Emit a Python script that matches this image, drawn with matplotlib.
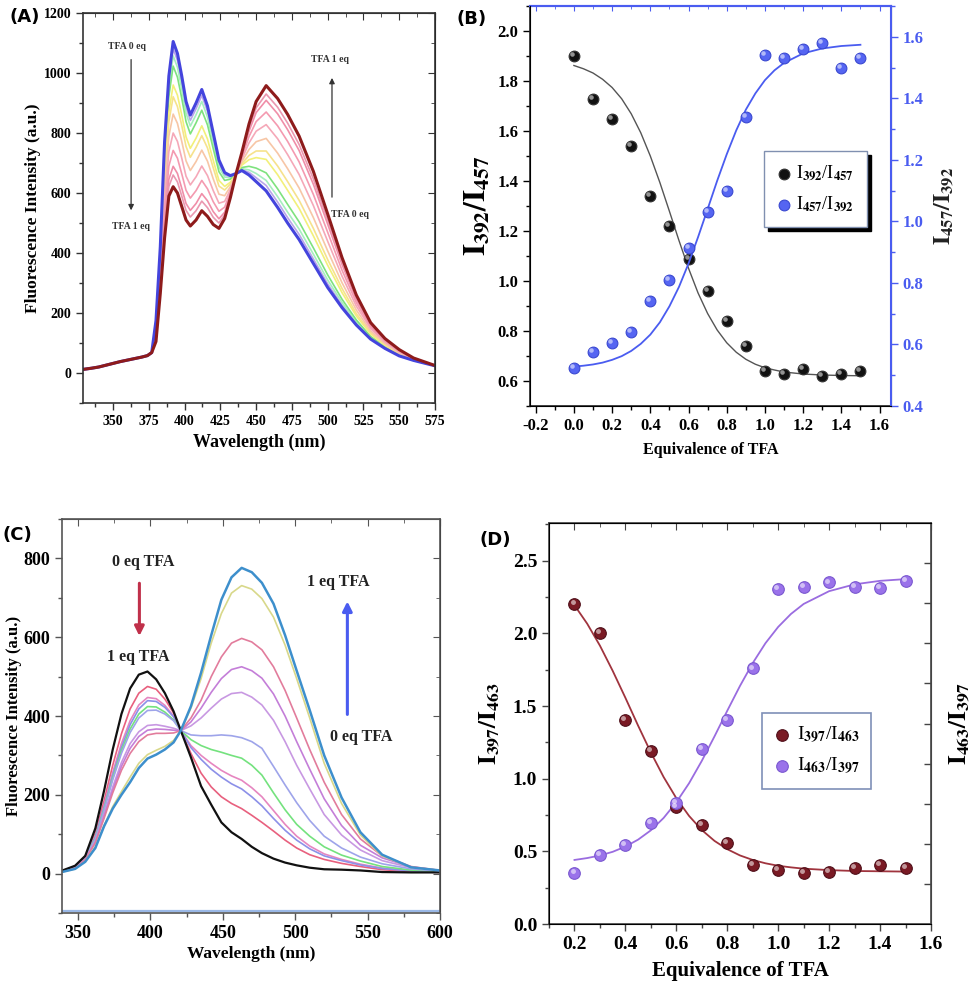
import numpy as np
import matplotlib
matplotlib.use('Agg')
import matplotlib.pyplot as plt
from matplotlib.ticker import MultipleLocator, FixedLocator, NullFormatter
from matplotlib.transforms import offset_copy

plt.rcParams['font.family'] = ['Liberation Serif', 'DejaVu Serif']
plt.rcParams['font.weight'] = 'bold'
plt.rcParams['mathtext.fontset'] = 'stix'

# ---------------- (A) spectra ----------------
# shared part below 380 nm (all curves overlap)
wl_a_base = [329, 335, 340, 345, 350, 355, 360, 365, 370, 374, 377]
int_a_base = [12, 16, 20, 26, 32, 38, 43, 48, 53, 58, 68]
wl_a = [380, 383, 386, 389, 392, 395, 398, 401, 404, 408, 412, 416, 420, 424, 428, 432,
        436, 440, 445, 450, 457, 465, 472, 480, 490, 500, 510, 520, 530, 540, 550, 560, 575]
# from TFA 0 eq (blue) to TFA 1 eq (dark red)
spectra_a = [
    [175, 420, 770, 990, 1105, 1065, 990, 905, 860, 900, 945, 890, 800, 710, 668, 658,
     665, 675, 660, 638, 607, 552, 500, 445, 365, 285, 218, 160, 113, 82, 57, 42, 24],
    [172, 412, 754, 970, 1081, 1042, 968, 885, 842, 881, 925, 872, 785, 699, 660, 654,
     665, 678, 669, 651, 625, 570, 518, 462, 380, 297, 226, 165, 116, 84, 58, 42, 24],
    [168, 405, 738, 950, 1057, 1019, 947, 866, 823, 861, 905, 853, 770, 687, 653, 651,
     665, 681, 677, 665, 642, 588, 536, 480, 396, 310, 235, 170, 119, 85, 59, 43, 24],
    [163, 394, 716, 922, 1023, 986, 916, 838, 797, 834, 876, 827, 748, 671, 642, 646,
     665, 685, 689, 683, 667, 614, 562, 504, 417, 327, 246, 177, 122, 88, 61, 43, 24],
    [154, 374, 674, 870, 960, 926, 860, 787, 749, 783, 824, 780, 709, 642, 622, 636,
     665, 693, 711, 718, 712, 661, 609, 549, 457, 359, 268, 190, 130, 92, 63, 44, 24],
    [148, 361, 648, 838, 921, 888, 825, 755, 719, 752, 791, 750, 684, 623, 610, 630,
     665, 698, 725, 740, 740, 690, 638, 576, 482, 378, 282, 198, 134, 95, 65, 45, 24],
    [140, 342, 610, 790, 863, 832, 772, 707, 675, 705, 743, 706, 647, 596, 591, 621,
     665, 705, 745, 771, 782, 733, 681, 617, 518, 407, 301, 210, 140, 98, 67, 46, 24],
    [131, 322, 568, 738, 800, 772, 716, 656, 627, 654, 690, 658, 608, 566, 572, 612,
     665, 713, 767, 806, 828, 781, 728, 662, 558, 439, 323, 223, 148, 103, 70, 47, 25],
    [123, 304, 530, 690, 742, 716, 664, 609, 583, 608, 642, 614, 571, 539, 553, 603,
     665, 720, 788, 838, 870, 824, 772, 704, 595, 469, 343, 235, 154, 107, 73, 48, 25],
    [115, 287, 495, 646, 689, 665, 616, 565, 542, 565, 598, 574, 538, 514, 536, 595,
     665, 727, 806, 868, 909, 864, 811, 742, 629, 496, 362, 246, 160, 110, 75, 49, 25],
    [111, 277, 476, 622, 660, 637, 590, 542, 520, 541, 573, 551, 519, 500, 527, 591,
     665, 730, 816, 884, 930, 886, 833, 762, 647, 510, 372, 252, 164, 112, 76, 49, 25],
    [105, 265, 450, 590, 621, 600, 555, 510, 490, 510, 541, 522, 495, 482, 515, 585,
     665, 735, 830, 905, 958, 915, 862, 790, 672, 530, 385, 260, 168, 115, 78, 50, 25],
]
colors_a = ['#4444dd', '#b9a6ea', '#a6eec0', '#7ee27e', '#f2f07a', '#f6e28c', '#f7c6a6',
            '#f5a8b8', '#f49ab0', '#f08ea8', '#ea98b0', '#8e1b1b']

# ---------------- (B) ratios ----------------
eq_b = [0.0, 0.1, 0.2, 0.3, 0.4, 0.5, 0.6, 0.7, 0.8, 0.9, 1.0, 1.1, 1.2, 1.3, 1.4, 1.5]
r392_457 = [1.90, 1.73, 1.65, 1.54, 1.34, 1.22, 1.09, 0.96, 0.84, 0.74, 0.64, 0.63, 0.65, 0.62, 0.63, 0.64]
r457_392 = [0.523, 0.575, 0.604, 0.642, 0.74, 0.81, 0.913, 1.031, 1.10, 1.34, 1.54, 1.53, 1.56, 1.58, 1.50, 1.53]
fit_x_b = [0.0, 0.05, 0.1, 0.15, 0.2, 0.25, 0.3, 0.35, 0.4, 0.45, 0.5, 0.55, 0.6, 0.65, 0.7, 0.75,
           0.8, 0.85, 0.9, 0.95, 1.0, 1.05, 1.1, 1.2, 1.3, 1.4, 1.5]
fit_392_457 = [1.862, 1.849, 1.832, 1.807, 1.774, 1.729, 1.669, 1.593, 1.500, 1.394, 1.279, 1.162,
               1.051, 0.952, 0.870, 0.804, 0.753, 0.715, 0.687, 0.667, 0.653, 0.644, 0.636, 0.628,
               0.624, 0.622, 0.621]
fit_457_392 = [0.528, 0.531, 0.535, 0.541, 0.550, 0.562, 0.579, 0.602, 0.632, 0.672, 0.724, 0.787,
               0.863, 0.949, 1.040, 1.132, 1.218, 1.296, 1.363, 1.416, 1.459, 1.491, 1.515, 1.546,
               1.562, 1.570, 1.574]

# ---------------- (C) spectra ----------------
wl_c = [340, 348, 355, 362, 368, 374, 380, 386, 392, 398, 404, 410, 416, 421, 428, 435,
        442, 449, 456, 463, 470, 477, 485, 493, 501, 510, 520, 532, 545, 560, 580, 600]
spectra_c = {
    '#e8607e': [8, 19, 44, 102, 185, 275, 355, 418, 458, 475, 468, 443, 408, 363, 305, 255,
                220, 195, 178, 165, 148, 130, 108, 85, 65, 48, 36, 26, 18, 10, 5, 3],
    '#e686c0': [8, 18, 42, 96, 173, 257, 330, 388, 428, 447, 444, 427, 400, 363, 325, 300,
                280, 262, 248, 237, 218, 195, 160, 125, 95, 70, 50, 36, 24, 14, 7, 4],
    '#8c90e8': [7, 17, 41, 93, 168, 250, 320, 378, 418, 439, 437, 422, 398, 363, 320, 290,
                265, 245, 228, 215, 195, 172, 140, 110, 85, 63, 45, 33, 22, 13, 7, 4],
    '#74e27e': [7, 17, 40, 90, 163, 243, 312, 367, 405, 424, 423, 410, 390, 363, 340, 325,
                315, 308, 300, 293, 275, 250, 205, 162, 125, 95, 68, 47, 32, 18, 9, 5],
    '#9ea4ea': [7, 16, 39, 88, 160, 238, 305, 358, 395, 414, 415, 405, 388, 363, 352, 350,
                350, 352, 350, 345, 335, 318, 272, 225, 180, 135, 95, 65, 42, 25, 12, 6],
    '#c898e2': [6, 15, 37, 82, 150, 220, 282, 330, 360, 376, 378, 374, 369, 363, 375, 395,
                420, 443, 457, 460, 448, 428, 389, 335, 275, 215, 150, 98, 60, 33, 15, 7],
    '#c47ed8': [6, 14, 36, 80, 145, 212, 272, 318, 348, 364, 367, 366, 364, 363, 385, 420,
                460, 495, 518, 525, 515, 496, 456, 400, 335, 265, 190, 122, 72, 40, 17, 8],
    '#e27c9c': [6, 14, 35, 78, 140, 205, 262, 305, 335, 352, 356, 356, 357, 363, 395, 440,
                500, 550, 585, 597, 588, 568, 525, 465, 395, 315, 232, 150, 88, 45, 18, 8],
    '#d8d88a': [5, 12, 31, 68, 122, 170, 208, 245, 280, 302, 313, 323, 338, 363, 420, 495,
                585, 660, 712, 731, 722, 698, 651, 580, 495, 395, 280, 178, 98, 45, 16, 8],
}
c_black = [9, 20, 45, 115, 210, 315, 405, 470, 505, 513, 493, 458, 412, 363, 295, 222,
           175, 130, 105, 88, 68, 52, 38, 28, 21, 15, 11, 10, 8, 4, 3, 3]
c_blue = [5, 12, 30, 65, 120, 165, 200, 232, 268, 292, 302, 315, 333, 363, 425, 510,
          605, 695, 752, 776, 765, 738, 685, 605, 515, 415, 300, 193, 105, 48, 16, 8]

# ---------------- (D) ratios ----------------
eq_d = [0.2, 0.3, 0.4, 0.5, 0.6, 0.7, 0.8, 0.9, 1.0, 1.1, 1.2, 1.3, 1.4, 1.5]
r397_463 = [2.206, 2.0, 1.404, 1.19, 0.807, 0.681, 0.56, 0.406, 0.372, 0.349, 0.36, 0.383, 0.406, 0.383]
r463_397 = [0.353, 0.475, 0.544, 0.693, 0.83, 1.202, 1.404, 1.759, 2.303, 2.321, 2.351, 2.321, 2.31, 2.362]
fit_x_d = [0.2, 0.25, 0.3, 0.35, 0.4, 0.45, 0.5, 0.55, 0.6, 0.65, 0.7, 0.75, 0.8, 0.85, 0.9,
           0.95, 1.0, 1.05, 1.1, 1.2, 1.3, 1.4, 1.5]
fit_397_463 = [2.194, 2.067, 1.916, 1.743, 1.557, 1.365, 1.181, 1.012, 0.866, 0.744, 0.647, 0.572,
               0.515, 0.472, 0.441, 0.418, 0.401, 0.390, 0.381, 0.371, 0.365, 0.363, 0.361]
fit_463_397 = [0.441, 0.454, 0.472, 0.497, 0.533, 0.581, 0.645, 0.730, 0.838, 0.969, 1.123, 1.292,
               1.468, 1.639, 1.796, 1.933, 2.045, 2.134, 2.203, 2.291, 2.338, 2.362, 2.374]


def setup(ax, xmaj, xmin, ymaj, ymin, size, spine='#333333', mirror_y=True):
    ax.xaxis.set_major_locator(MultipleLocator(xmaj))
    ax.xaxis.set_minor_locator(MultipleLocator(xmin))
    ax.yaxis.set_major_locator(MultipleLocator(ymaj))
    ax.yaxis.set_minor_locator(MultipleLocator(ymin))
    ax.tick_params(which='both', direction='out', width=1, colors=spine, labelcolor='black',
                   labelsize=size)
    ax.tick_params(which='major', length=5)
    ax.tick_params(which='minor', length=3)
    for s in ax.spines.values():
        s.set_color(spine)
        s.set_linewidth(1.2)
    top = ax.secondary_xaxis('top')
    top.xaxis.set_major_locator(MultipleLocator(xmaj))
    top.xaxis.set_minor_locator(MultipleLocator(xmin))
    top.tick_params(which='both', direction='in', labeltop=False, colors=spine)
    top.tick_params(which='major', length=5)
    top.tick_params(which='minor', length=3)
    top.spines['top'].set_color(spine)
    if mirror_y:
        right = ax.secondary_yaxis('right')
        right.yaxis.set_major_locator(MultipleLocator(ymaj))
        right.yaxis.set_minor_locator(MultipleLocator(ymin))
        right.tick_params(which='both', direction='in', labelright=False, colors=spine)
        right.tick_params(which='major', length=5)
        right.tick_params(which='minor', length=3)
    return top


def balls(ax, x, y, color, edge, size):
    # shaded sphere look: dot + small highlight
    h = ax.scatter(x, y, s=size, color=color, edgecolor=edge, linewidth=0.8, zorder=5)
    hl = offset_copy(ax.transData, fig=ax.figure, x=-1.4, y=1.4, units='points')
    ax.scatter(x, y, s=size * 0.18, color='white', alpha=0.55, linewidth=0,
               transform=hl, zorder=6)
    return h


fig = plt.figure(figsize=(9.71, 10.01), dpi=100)

# ---- panel A ----
axA = fig.add_axes([0.0855, 0.5974, 0.3625, 0.3896])
for vals, col in zip(spectra_a[1:-1], colors_a[1:-1]):
    axA.plot(wl_a_base + wl_a, int_a_base + vals, color=col, lw=1.2)
axA.plot(wl_a_base + wl_a, int_a_base + spectra_a[0], color=colors_a[0], lw=2.2)
axA.plot(wl_a_base + wl_a, int_a_base + spectra_a[-1], color=colors_a[-1], lw=2.2)
axA.set_xlim(329, 575)
axA.set_ylim(-100, 1200)
setup(axA, 25, 12.5, 200, 100, 10)
axA.set_xlabel('Wavelength (nm)', fontsize=13, fontweight='bold', labelpad=4)
axA.set_ylabel('Fluorescence Intensity (a.u.)', fontsize=12.5, fontweight='bold', labelpad=2)
arrow_k = dict(arrowstyle='-|>', color='#333333', lw=0.9, mutation_scale=8)
axA.annotate('', xy=(362.6, 533), xytext=(362.6, 1054), arrowprops=arrow_k)
axA.annotate('', xy=(503, 993), xytext=(503, 577), arrowprops=arrow_k)
for x, y, t in [(359.5, 1090, 'TFA 0 eq'), (362.3, 490, 'TFA 1 eq'),
                (501.5, 1045, 'TFA 1 eq'), (515.5, 529, 'TFA 0 eq')]:
    axA.text(x, y, t, ha='center', va='center', fontsize=7, fontweight='bold', color='#333333')

# ---- panel B ----
blue_b = '#4a5cf0'
axB = fig.add_axes([0.5458, 0.5944, 0.3718, 0.3996])
axB.set_xlim(-0.23, 1.66)
axB.set_ylim(0.5, 2.1)
axB.xaxis.set_major_locator(MultipleLocator(0.2))
axB.xaxis.set_minor_locator(MultipleLocator(0.1))
axB.yaxis.set_major_locator(MultipleLocator(0.2))
axB.yaxis.set_minor_locator(MultipleLocator(0.1))
axB.xaxis.set_major_formatter(plt.FuncFormatter(lambda v, p: f'{v:.1f}'))
axB.tick_params(which='both', direction='out', labelsize=12, width=1)
axB.tick_params(which='major', length=5)
axB.tick_params(which='minor', length=3)
for s in ['left', 'bottom']:
    axB.spines[s].set_color('#222222')
    axB.spines[s].set_linewidth(1.2)
axB.spines['top'].set_color(blue_b)
axB.spines['top'].set_linewidth(1.5)
topB = axB.secondary_xaxis('top')
topB.xaxis.set_major_locator(MultipleLocator(0.2))
topB.xaxis.set_minor_locator(MultipleLocator(0.1))
topB.tick_params(which='both', direction='in', labeltop=False, colors=blue_b)
topB.spines['top'].set_color(blue_b)
topB.spines['top'].set_linewidth(1.5)
axB2 = axB.twinx()
axB2.set_ylim(0.4, 1.7)
axB2.yaxis.set_major_locator(MultipleLocator(0.2))
axB2.yaxis.set_minor_locator(MultipleLocator(0.1))
axB2.tick_params(which='both', direction='out', colors=blue_b, labelsize=12, width=1)
axB2.tick_params(which='major', length=5)
axB2.tick_params(which='minor', length=3)
axB2.spines['right'].set_color(blue_b)
axB2.spines['right'].set_linewidth(1.5)
axB2.spines['top'].set_visible(False)
axB.plot(fit_x_b, fit_392_457, color='#555555', lw=1.0)
axB2.plot(fit_x_b, fit_457_392, color=blue_b, lw=1.3)
hb1 = balls(axB, eq_b, r392_457, '#111111', '#333333', 60)
hb2 = balls(axB2, eq_b, r457_392, '#5565f2', '#3a48d0', 60)
legB = axB2.legend([hb1, hb2], [r'I$_{392}$/I$_{457}$', r'I$_{457}$/I$_{392}$'],
                   loc='upper left', bbox_to_anchor=(0.648, 0.6375), borderaxespad=0,
                   frameon=True, fancybox=False, handlelength=0.8, handletextpad=0.3,
                   borderpad=0.7, labelspacing=0.6, framealpha=1,
                   shadow={'color': 'black', 'alpha': 1, 'ox': 3, 'oy': -3},
                   prop={'family': 'Liberation Serif', 'size': 13, 'weight': 'normal'})
legB.get_frame().set_edgecolor('#8090b0')
legB.get_frame().set_linewidth(1.0)
axB.set_xlabel('Equivalence of TFA', fontsize=11.5, fontweight='bold', labelpad=6)
axB.set_ylabel(r'$\mathbf{I_{392}/I_{457}}$', fontsize=22, labelpad=4)
axB2.set_ylabel(r'$\mathbf{I_{457}/I_{392}}$', fontsize=17, labelpad=6, color='#222222')

# ---- panel C ----
axC = fig.add_axes([0.0639, 0.0879, 0.3893, 0.3936])
for col, vals in spectra_c.items():
    axC.plot(wl_c, vals, color=col, lw=1.2)
axC.plot(wl_c, c_black, color='#111111', lw=1.6)
axC.plot(wl_c, c_blue, color='#3d8fcc', lw=1.8)
axC.axhline(-96, color='#9ab8e6', lw=1.6)
axC.set_xlim(339, 600)
axC.set_ylim(-100, 900)
setup(axC, 50, 25, 200, 100, 13, spine='#555555')
axC.set_xlabel('Wavelength (nm)', fontsize=12.5, fontweight='bold', labelpad=3)
axC.set_ylabel('Fluorescence Intensity (a.u.)', fontsize=12, fontweight='bold', labelpad=1)
axC.annotate('', xy=(392.4, 596), xytext=(392.4, 744),
             arrowprops=dict(arrowstyle='-|>', color='#c0304a', lw=2.2, mutation_scale=14))
axC.annotate('', xy=(536, 698), xytext=(536, 397),
             arrowprops=dict(arrowstyle='-|>', color='#4a5cf0', lw=2.2, mutation_scale=14))
for x, y, t in [(395, 790, '0 eq TFA'), (391.6, 549, '1 eq TFA'),
                (529.8, 740, '1 eq TFA'), (545.4, 346, '0 eq TFA')]:
    axC.text(x, y, t, ha='center', va='center', fontsize=11.5, fontweight='bold', color='#222222')

# ---- panel D ----
red_d = '#7a1a24'
pur_d = '#9a72ea'
axD = fig.add_axes([0.5654, 0.0769, 0.3934, 0.4006])
axD.set_xlim(0.1, 1.6)
axD.set_ylim(0.0, 2.76)
setup(axD, 0.2, 0.1, 0.5, 0.25, 14, spine='#444444', mirror_y=False)
axD.xaxis.set_major_formatter(plt.FuncFormatter(lambda v, p: f'{v:.1f}'))
axD.yaxis.set_major_formatter(plt.FuncFormatter(lambda v, p: f'{v:.1f}'))
axD2 = axD.twinx()
axD2.set_ylim(0, 10)
axD2.yaxis.set_major_locator(FixedLocator([1, 2, 3, 4, 5, 6, 7, 8, 9]))
axD2.yaxis.set_major_formatter(NullFormatter())
axD2.tick_params(direction='in', length=5, width=1, colors='#444444')
axD2.spines['right'].set_color('#444444')
axD.plot(fit_x_d, fit_397_463, color='#a0343e', lw=1.3)
axD.plot(fit_x_d, fit_463_397, color='#9a6ce0', lw=1.3)
hd1 = balls(axD, eq_d, r397_463, red_d, '#50101a', 70)
hd2 = balls(axD, eq_d, r463_397, pur_d, '#7a58d0', 70)
legD = axD.legend([hd1, hd2], [r'I$_{397}$/I$_{463}$', r'I$_{463}$/I$_{397}$'],
                  loc='upper left', bbox_to_anchor=(0.558, 0.526), borderaxespad=0,
                  fancybox=False, handlelength=0.8, handletextpad=0.4, borderpad=0.6,
                  labelspacing=0.5, framealpha=1,
                  prop={'family': 'Liberation Serif', 'size': 14, 'weight': 'normal'})
legD.get_frame().set_edgecolor('#7f90b8')
legD.get_frame().set_linewidth(1.2)
axD.set_xlabel('Equivalence of TFA', fontsize=15, fontweight='bold', labelpad=6)
axD.set_ylabel(r'$\mathbf{I_{397}/I_{463}}$', fontsize=18, labelpad=8)
axD2.set_ylabel(r'$\mathbf{I_{463}/I_{397}}$', fontsize=18, labelpad=8)

# panel letters
for x, y, t in [(0.010, 0.983, '(A)'), (0.470, 0.981, '(B)'),
                (0.003, 0.466, '(C)'), (0.494, 0.461, '(D)')]:
    fig.text(x, y, t, fontsize=13, fontweight='bold', family='DejaVu Sans', va='center')

fig.savefig('out.png', dpi=100)
